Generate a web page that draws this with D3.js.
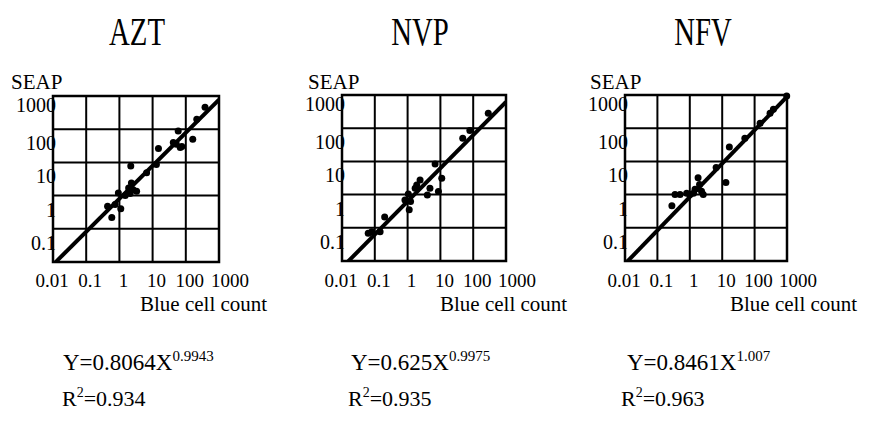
<!DOCTYPE html>
<html>
<head>
<meta charset="utf-8">
<script src="https://cdn.jsdelivr.net/npm/d3@7"></script>
<style>
  html, body { margin: 0; padding: 0; background: #fff; }
  svg { display: block; }
  text { font-family: "Liberation Serif", "Times New Roman", serif; fill: #000; }
</style>
</head>
<body>
<svg id="chart" width="879" height="421"></svg>
<script>
// ---- data ----
const panelNames = ["AZT", "NVP", "NFV"];
const xTickValues = [0.01, 0.1, 1, 10, 100, 1000];
const yTickValues = [0.1, 1, 10, 100, 1000];
const xAxisTitle = "Blue cell count";
const yAxisTitle = "SEAP";

const aztX = [380, 214, 59, 162, 42, 52, 76, 68, 15, 13, 6.6, 2.2, 2.3, 1.9, 2.6, 3.3, 2.1, 0.93, 1.5, 0.44, 0.74, 1.1, 0.59];
const aztY = [457, 200, 89, 50, 40, 35, 30, 28, 26, 8.7, 4.9, 7.8, 2.4, 1.7, 1.5, 1.35, 1.15, 1.2, 1.0, 0.48, 0.54, 0.40, 0.22];

const nvpX = [288, 79, 48, 6.9, 11, 2.4, 1.9, 1.7, 4.8, 4.0, 8.7, 1.05, 0.83, 1.23, 1.12, 0.20, 0.063, 0.081, 0.145];
const nvpY = [282, 85, 50, 8.3, 3.1, 2.75, 1.95, 1.55, 1.55, 0.98, 1.23, 1.05, 0.69, 0.62, 0.35, 0.21, 0.068, 0.076, 0.076];

const nfvX = [980, 380, 300, 148, 50, 16.6, 6.5, 13, 1.8, 2.0, 2.3, 2.6, 1.3, 0.5, 0.8, 1.45, 0.28, 0.35, 1.0];
const nfvY = [930, 370, 280, 141, 50, 27, 6.5, 2.3, 3.2, 2.0, 1.26, 1.0, 1.1, 1.0, 1.1, 1.45, 0.46, 1.0, 1.0];

const fitA = [0.8064, 0.625, 0.8461];
const fitB = [0.9943, 0.9975, 1.007];
const equationText = ["Y=0.8064X", "Y=0.625X", "Y=0.8461X"];
const exponentText = ["0.9943", "0.9975", "1.007"];
const r2Text = ["=0.934", "=0.935", "=0.963"];

// ---- layout (not data) ----
const boxLeft = [53, 342, 625];
const boxWidth = [166, 164, 162];
const boxTop = [96, 95, 95];
const boxHeight = 166;
const titleCx = [137, 420, 703];
const blueX = [140, 440, 730];
const eqX = [63, 351, 627];
const r2X = [62, 348, 621];
const seapX = [11, 308, 590];

const svg = d3.select("#chart");
const series = [[aztX, aztY], [nvpX, nvpY], [nfvX, nfvY]];

panelNames.forEach((name, i) => {
  const x = d3.scaleLog().domain([0.01, 1000]).range([boxLeft[i], boxLeft[i] + boxWidth[i]]);
  const y = d3.scaleLog().domain([0.01, 1000]).range([boxTop[i] + boxHeight, boxTop[i]]);
  const g = svg.append("g");

  // title
  g.append("text")
    .attr("transform", `translate(${titleCx[i]},45) scale(0.72,1)`)
    .attr("text-anchor", "middle")
    .style("font-size", "40px")
    .text(name);

  // SEAP label
  g.append("text")
    .attr("x", seapX[i]).attr("y", 89)
    .style("font-size", "21px")
    .text(yAxisTitle);

  // y tick labels (drawn before border so border overlaps last digit)
  g.append("g").selectAll("text").data(yTickValues).join("text")
    .attr("x", boxLeft[i] + 3)
    .attr("y", d => y(d) + (d === 1000 ? 16 : 21))
    .attr("text-anchor", "end")
    .style("font-size", "20px")
    .text(d => String(d));

  // x tick labels
  g.append("g").selectAll("text").data(xTickValues).join("text")
    .attr("x", d => x(d) + (d === 1000 ? 11 : (d === 0.01 ? -1 : 4)))
    .attr("y", 287)
    .attr("text-anchor", "middle")
    .style("font-size", "19px")
    .text(d => String(d));

  // grid lines
  const inner = [0.1, 1, 10, 100];
  g.append("g").selectAll("line.v").data(inner).join("line")
    .attr("x1", d => x(d)).attr("x2", d => x(d))
    .attr("y1", y(0.01)).attr("y2", y(1000))
    .attr("stroke", "#000").attr("stroke-width", 2);
  g.append("g").selectAll("line.h").data(inner).join("line")
    .attr("x1", x(0.01)).attr("x2", x(1000))
    .attr("y1", d => y(d)).attr("y2", d => y(d))
    .attr("stroke", "#000").attr("stroke-width", 2);

  // border
  g.append("rect")
    .attr("x", x(0.01)).attr("y", y(1000))
    .attr("width", x(1000) - x(0.01)).attr("height", y(0.01) - y(1000))
    .attr("fill", "none").attr("stroke", "#000").attr("stroke-width", 2.5);

  // clip
  const clipId = "clip" + i;
  svg.append("clipPath").attr("id", clipId).append("rect")
    .attr("x", x(0.01) - 1).attr("y", y(1000) - 1)
    .attr("width", x(1000) - x(0.01) + 2).attr("height", y(0.01) - y(1000) + 2);

  // regression line
  const ends = [0.01, 1000].map(v => [v, fitA[i] * Math.pow(v, fitB[i])]);
  g.append("path")
    .attr("clip-path", `url(#${clipId})`)
    .attr("d", d3.line().x(d => x(d[0])).y(d => y(d[1]))(ends))
    .attr("fill", "none").attr("stroke", "#000").attr("stroke-width", 4);

  // points
  const [xs, ys] = series[i];
  g.append("g").selectAll("circle").data(xs.map((v, k) => [v, ys[k]])).join("circle")
    .attr("cx", d => x(d[0])).attr("cy", d => y(d[1])).attr("r", 3.5)
    .attr("fill", "#000");

  // x axis title
  g.append("text")
    .attr("x", blueX[i]).attr("y", 311)
    .style("font-size", "21px")
    .text(xAxisTitle);

  // equation
  const eq = g.append("text").attr("x", eqX[i]).attr("y", 370).style("font-size", "23px");
  eq.append("tspan").text(equationText[i]);
  eq.append("tspan").attr("dy", -9).style("font-size", "15px").text(exponentText[i]);

  // R^2
  const r2 = g.append("text").attr("x", r2X[i]).attr("y", 406).style("font-size", "22px");
  r2.append("tspan").text("R");
  r2.append("tspan").attr("dy", -9).style("font-size", "14px").text("2");
  r2.append("tspan").attr("dy", 9).text(r2Text[i]);
});
</script>
</body>
</html>
